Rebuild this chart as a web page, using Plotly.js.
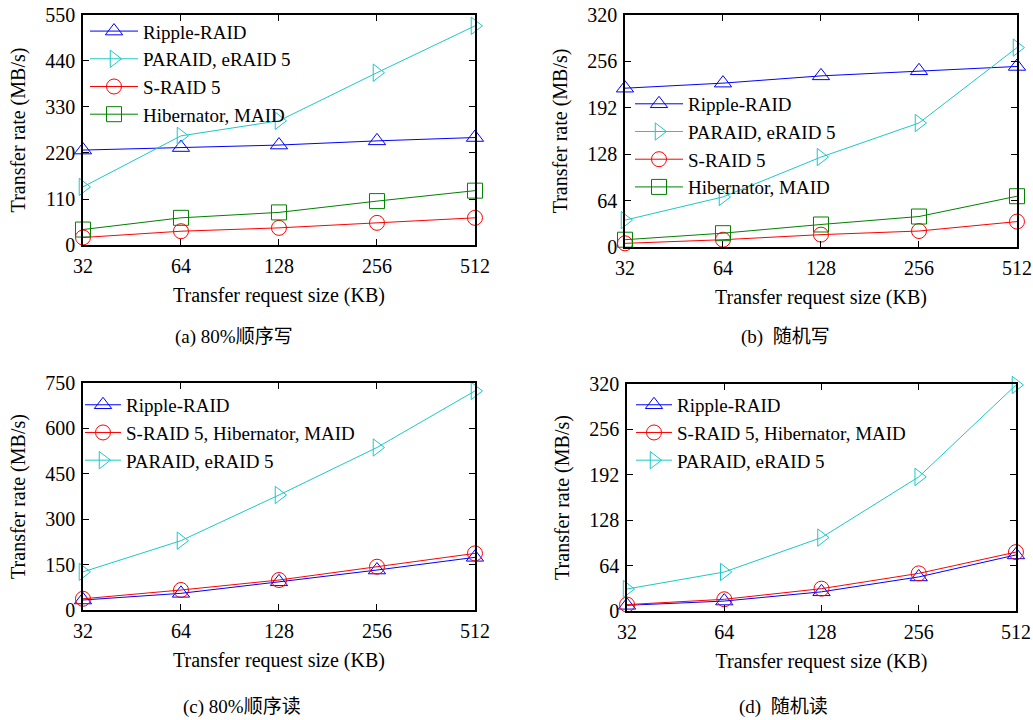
<!DOCTYPE html>
<html>
<head>
<meta charset="utf-8">
<script src="https://cdn.plot.ly/plotly-3.0.1.min.js"></script>
<style>html,body{margin:0;padding:0;background:#fff;}#chart{width:1033px;height:720px;}</style>
</head>
<body>
<div id="chart"></div>
<script>
const sizes = [32, 64, 128, 256, 512];
const sizeLabels = ['32', '64', '128', '256', '512'];

// (a) 80% sequential write
const aRipple = [227, 233, 239, 249, 257];
const aParaid = [139, 261, 297, 412, 524];
const aSraid = [18, 33, 41, 53, 65];
const aHiber = [37, 65, 78, 105, 130];

// (b) random write
const bRipple = [219, 226, 236, 243, 249];
const bParaid = [37, 69, 124, 171, 275];
const bSraid = [5, 10, 17, 22, 35];
const bHiber = [10, 19, 31, 42, 70];

// (c) 80% sequential read
const cRipple = [33, 55, 93, 132, 174];
const cSraid = [37, 66, 99, 143, 187];
const cParaid = [126, 229, 380, 537, 724];

// (d) random read
const dRipple = [8, 14, 27, 48, 79];
const dSraid = [9, 16.5, 31.5, 53, 83];
const dParaid = [31, 55, 103.5, 189, 318.6];

const captions = ['(a) 80%顺序写', '(b)  随机写', '(c) 80%顺序读', '(d)  随机读'];

const BLUE = '#0000ff', CYAN = '#1cc8c8', RED = '#ff0000', GREEN = '#008000';
const SERIF = 'Liberation Serif, Noto Sans CJK SC, serif';

function tr(name, y, color, symbol, xa, ya, leg) {
  return {
    x: sizes, y: y, name: name, type: 'scatter', mode: 'lines+markers',
    xaxis: xa, yaxis: ya, legend: leg, cliponaxis: false,
    line: {color: color, width: 1},
    marker: {symbol: symbol, size: 15, color: color, line: {color: color, width: 1}}
  };
}

const data = [
  tr('Ripple-RAID', aRipple, BLUE, 'triangle-up-open', 'x', 'y', 'legend'),
  tr('PARAID, eRAID 5', aParaid, CYAN, 'triangle-right-open', 'x', 'y', 'legend'),
  tr('S-RAID 5', aSraid, RED, 'circle-open', 'x', 'y', 'legend'),
  tr('Hibernator, MAID', aHiber, GREEN, 'square-open', 'x', 'y', 'legend'),

  tr('Ripple-RAID', bRipple, BLUE, 'triangle-up-open', 'x2', 'y2', 'legend2'),
  tr('PARAID, eRAID 5', bParaid, CYAN, 'triangle-right-open', 'x2', 'y2', 'legend2'),
  tr('S-RAID 5', bSraid, RED, 'circle-open', 'x2', 'y2', 'legend2'),
  tr('Hibernator, MAID', bHiber, GREEN, 'square-open', 'x2', 'y2', 'legend2'),

  tr('Ripple-RAID', cRipple, BLUE, 'triangle-up-open', 'x3', 'y3', 'legend3'),
  tr('S-RAID 5, Hibernator, MAID', cSraid, RED, 'circle-open', 'x3', 'y3', 'legend3'),
  tr('PARAID, eRAID 5', cParaid, CYAN, 'triangle-right-open', 'x3', 'y3', 'legend3'),

  tr('Ripple-RAID', dRipple, BLUE, 'triangle-up-open', 'x4', 'y4', 'legend4'),
  tr('S-RAID 5, Hibernator, MAID', dSraid, RED, 'circle-open', 'x4', 'y4', 'legend4'),
  tr('PARAID, eRAID 5', dParaid, CYAN, 'triangle-right-open', 'x4', 'y4', 'legend4')
];

function xax(domain, anchor) {
  return {
    domain: domain, anchor: anchor, type: 'log',
    range: [Math.log10(31.995), Math.log10(512.005)],
    tickmode: 'array', tickvals: sizes, ticktext: sizeLabels,
    ticks: 'inside', ticklen: 6, tickcolor: '#000', mirror: 'ticks',
    showline: true, linecolor: '#000', linewidth: 1.5, showgrid: false, zeroline: false,
    tickfont: {family: SERIF, size: 20, color: '#000'}, ticklabelstandoff: 2,
    title: {text: 'Transfer request size (KB)', font: {family: SERIF, size: 20, color: '#000'}, standoff: 12}
  };
}
function yax(domain, anchor, max, dtick) {
  return {
    domain: domain, anchor: anchor, range: [0, max], dtick: dtick, tick0: 0,
    ticks: 'inside', ticklen: 6, tickcolor: '#000', mirror: 'ticks',
    showline: true, linecolor: '#000', linewidth: 1.5, showgrid: false, zeroline: false,
    tickfont: {family: SERIF, size: 20, color: '#000'}, ticklabelstandoff: 2,
    title: {text: 'Transfer rate (MB/s)', font: {family: SERIF, size: 20, color: '#000'}, standoff: 14}
  };
}
function leg(x, y, w) {
  return {
    x: x, y: y, xanchor: 'left', yanchor: 'top', xref: 'paper', yref: 'paper',
    bgcolor: 'rgba(0,0,0,0)', borderwidth: 0, itemwidth: w, tracegroupgap: 0,
    font: {family: SERIF, size: 19, color: '#000'}
  };
}

const layout = {
  width: 1033, height: 720,
  margin: {l: 0, r: 0, t: 0, b: 0},
  paper_bgcolor: '#fff', plot_bgcolor: '#fff',
  showlegend: true,
  xaxis: xax([0.0803, 0.4598], 'y'),
  yaxis: yax([0.6597, 0.9792], 'x', 550, 110),
  xaxis2: xax([0.605, 0.9845], 'y2'),
  yaxis2: yax([0.657, 0.9792], 'x2', 320, 64),
  xaxis3: xax([0.0803, 0.4598], 'y3'),
  yaxis3: yax([0.1528, 0.468], 'x3', 750, 150),
  xaxis4: xax([0.607, 0.9835], 'y4'),
  yaxis4: yax([0.1514, 0.4667], 'x4', 320, 64),
  legend: leg(85 / 1033, 0.983, 48),
  legend2: leg(630 / 1033, 0.882, 48),
  legend3: leg(80 / 1033, 0.4640, 36),
  legend4: leg(631 / 1033, 0.4640, 36),
  annotations: [
    {text: captions[0], x: 234 / 1033, y: 1 - 337 / 720},
    {text: captions[1], x: 785 / 1033, y: 1 - 337 / 720},
    {text: captions[2], x: 242 / 1033, y: 1 - 707 / 720},
    {text: captions[3], x: 783 / 1033, y: 1 - 707 / 720}
  ].map(a => Object.assign(a, {xref: 'paper', yref: 'paper', showarrow: false,
    xanchor: 'center', yanchor: 'middle', font: {family: SERIF, size: 19, color: '#000'}}))
};

Plotly.newPlot('chart', data, layout, {displayModeBar: false, responsive: false});
</script>
</body>
</html>
